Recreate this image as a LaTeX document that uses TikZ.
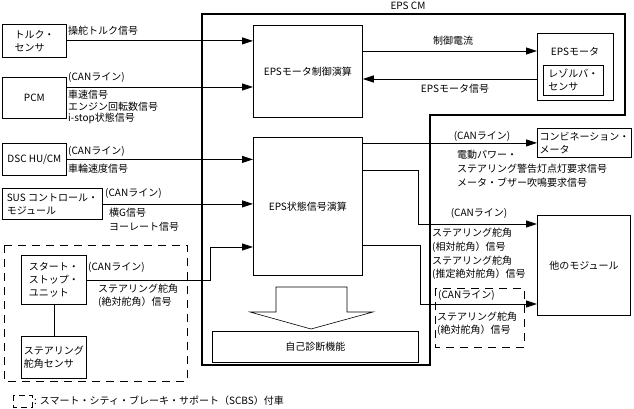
\documentclass[tikz,border=0pt]{standalone}
\usepackage{fontspec}
\setmainfont{Noto Sans CJK JP}
\usetikzlibrary{arrows.meta}

\begin{document}
\begin{tikzpicture}[
    x=1pt, y=-1pt,
    every node/.style={font=\fontsize{10}{13}\selectfont},
    box/.style={rectangle, draw, line width=0.8pt, anchor=north west, align=left, inner sep=2pt},
    lbl/.style={inner sep=0pt, align=left, anchor=west},
    arrow/.style={-{Triangle[length=11pt,width=7pt]}, line width=0.8pt},
    scbs/.style={draw, line width=0.8pt, dash pattern=on 8pt off 6pt}
]
\useasboundingbox (0,0) rectangle (634,409);

% EPS CM frame
\draw[line width=1.3pt] (202,14) -- (625,14) -- (625,115) -- (430,115) -- (430,365) -- (202,365) -- cycle;
\node[lbl, anchor=center] (epscm) at (408,6) {EPS CM};

% input side
\node[box, minimum width=64pt, minimum height=33pt] (torque) at (2,24) {トルク・\\センサ};
\node[box, minimum width=64pt, minimum height=41pt] (pcm) at (2,77) {PCM};
\node[box, minimum width=64pt, minimum height=32pt] (dsc) at (2,143) {DSC HU/CM};
\node[box, minimum width=100pt, minimum height=31pt] (sus) at (2,188) {SUS コントロール・\\モジュール};
\draw[scbs] (4,245) rectangle (187,381);
\node[box, minimum width=65pt, minimum height=49pt] (ssu) at (21,255) {スタート・\\ストップ・\\ユニット};
\node[box, minimum width=65pt, minimum height=42pt] (sas) at (21,336) {ステアリング\\舵角センサ};

% inside EPS CM
\node[box, minimum width=109pt, minimum height=92pt] (ctrl) at (253,25) {EPSモータ制御演算};
\node[box, minimum width=109pt, minimum height=138pt] (state) at (253,137) {EPS状態信号演算};
\node[box, minimum width=206pt, minimum height=31pt] (diag) at (212,331) {自己診断機能};
\draw[line width=0.6pt] (276,287) -- (347,287) -- (347,312) -- (373,312) -- (311,329) -- (250,312) -- (276,312) -- cycle;

% output side
\node[box, minimum width=76pt, minimum height=67pt] (motor) at (537,33) {};
\node[lbl, anchor=center] (motortxt) at (575,52) {EPSモータ};
\node[box, minimum width=60pt, minimum height=30pt] (resolver) at (543,65) {レゾルバ・\\センサ};
\node[box, minimum width=94pt, minimum height=29pt] (meter) at (537,128) {コンビネーション・\\メータ};
\node[box, minimum width=93pt, minimum height=100pt] (other) at (537,215) {他のモジュール};
\draw[scbs] (435,288) rectangle (524,347);

% signal labels
\node[lbl] (torquesig) at (68,31) {操舵トルク信号};
\node[lbl] (pcmcan) at (68,77) {(CANライン)};
\node[lbl, anchor=north west, font=\fontsize{10}{11.5}\selectfont] (pcmsig) at (68,90) {車速信号\\エンジン回転数信号\\i-stop状態信号};
\node[lbl] (dsccan) at (68,151) {(CANライン)};
\node[lbl] (dscsig) at (68,169) {車輪速度信号};
\node[lbl] (suscan) at (105,193) {(CANライン)};
\node[lbl, anchor=north west, font=\fontsize{10}{14}\selectfont] (sussig) at (109,208) {横G信号\\ヨーレート信号};
\node[lbl] (ssucan) at (88,267) {(CANライン)};
\node[lbl, anchor=north west] (ssusig) at (98,284) {ステアリング舵角\\(絶対舵角）信号};
\node[lbl, anchor=center] (current) at (453,41) {制御電流};
\node[lbl, anchor=center] (motorsig) at (455,89) {EPSモータ信号};
\node[lbl, anchor=center] (metercan) at (482,136) {(CANライン)};
\node[lbl, anchor=north west, font=\fontsize{10}{14}\selectfont] (metersig) at (457,150) {電動パワー・\\ステアリング警告灯点灯要求信号\\メータ・ブザー吹鳴要求信号};
\node[lbl, anchor=center] (othercan) at (479,213) {(CANライン)};
\node[lbl, anchor=north west, font=\fontsize{10}{13.7}\selectfont] (othersig) at (432,228) {ステアリング舵角\\(相対舵角）信号\\ステアリング舵角\\(推定絶対舵角）信号};
\node[lbl] (abscan) at (438,295) {(CANライン)};
\node[lbl, anchor=north west] (abssig) at (437,312) {ステアリング舵角\\(絶対舵角）信号};

% legend
\draw[scbs, dash pattern=on 6pt off 4pt] (13,395) rectangle (32,407);
\node[lbl] (legend) at (34,401) {: スマート・シティ・ブレーキ・サポート（SCBS）付車};

% connectors
\draw[arrow] (torque.east) -- (torque.east -| ctrl.west);
\draw[arrow] (pcm.east |- 0,87) -- (ctrl.west |- 0,87);
\draw[arrow] (ctrl.east |- 0,51) -- (motor.west |- 0,51);
\draw[arrow] (motor.west |- 0,79) -- (ctrl.east |- 0,79);
\draw[arrow] (dsc.east) -- (dsc.east -| state.west);
\draw[arrow] (sus.east) -- (sus.east -| state.west);
\draw[arrow] (ssu.east) -- ++(124,0) |- (state.west |- 0,247);
\draw[line width=0.8pt] (ssu.south) -- (sas.north);
\draw[arrow] (state.east |- meter.west) -- (meter.west);
\draw[arrow] (state.east |- 0,170) -- ++(56,0) |- (other.west |- 0,224);
\draw[arrow] (state.east |- 0,245) -- ++(58,0) |- (other.west |- 0,304);
\end{tikzpicture}
\end{document}
